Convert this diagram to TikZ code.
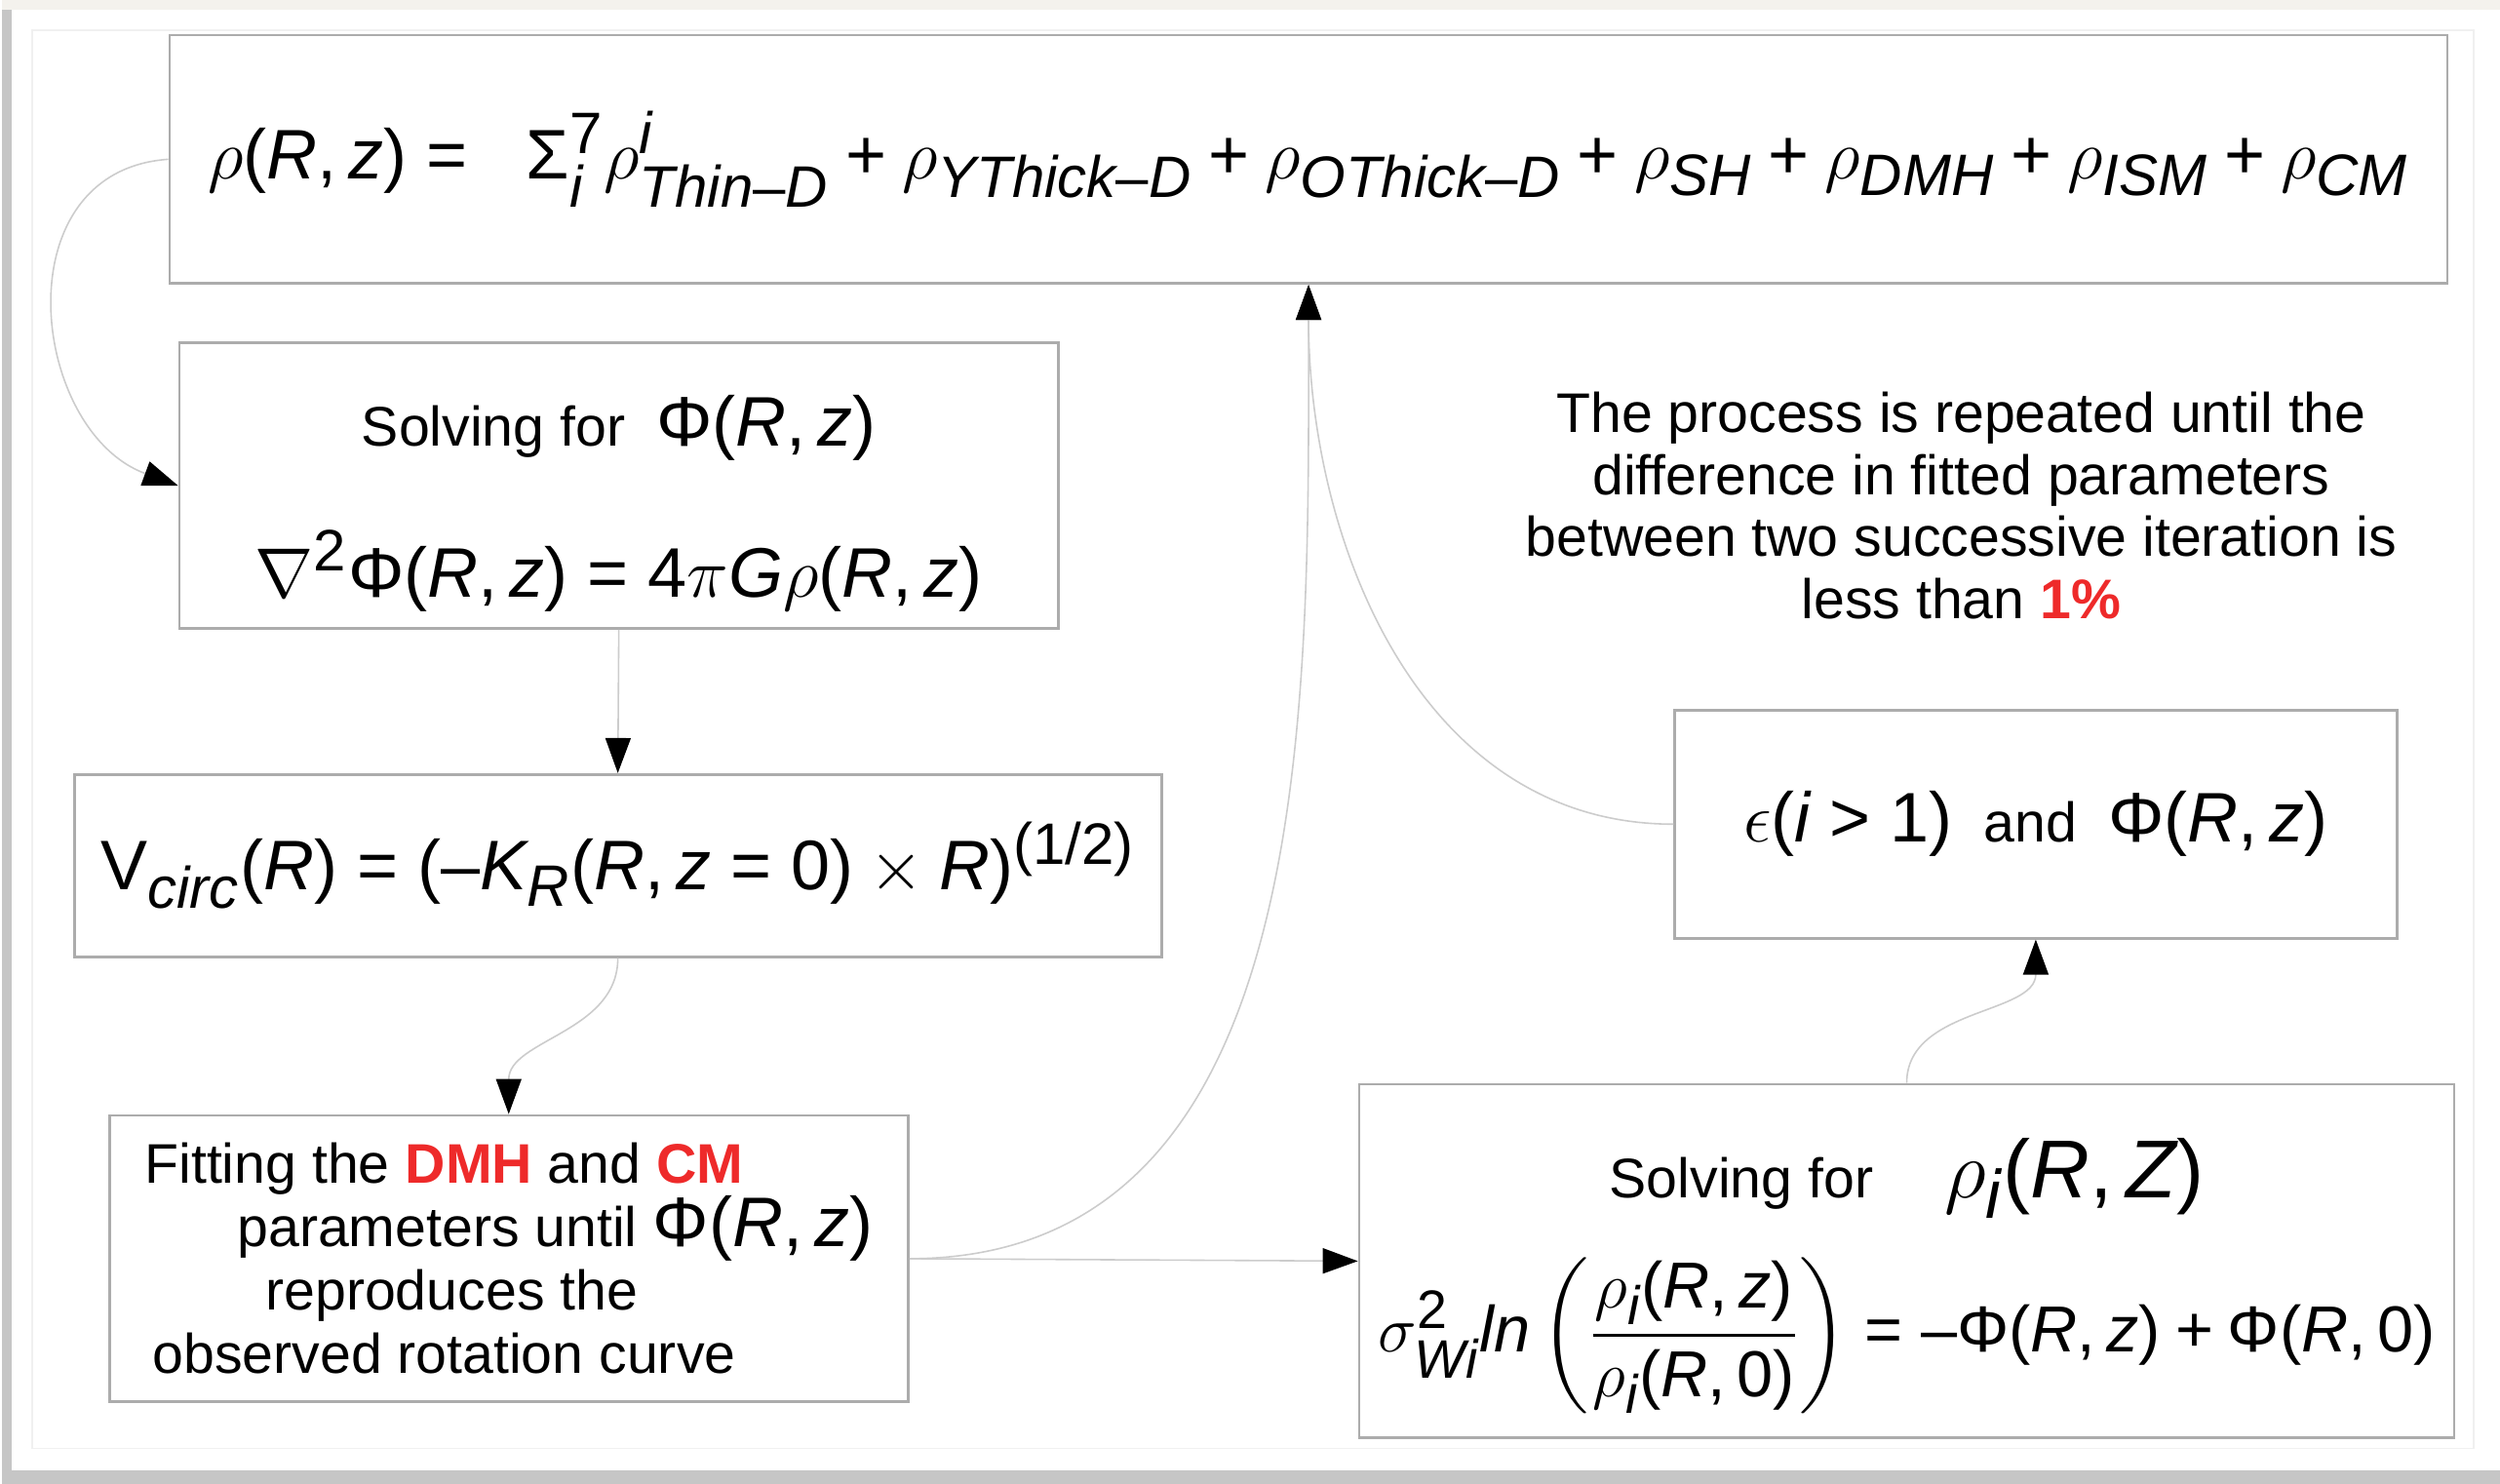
\RequirePackage{fix-cm}
\documentclass[tikz,border=0pt]{standalone}
\usepackage{amsmath,amssymb}
\usepackage[no-math]{fontspec}
\setmainfont{Liberation Sans}
\usepackage[italic]{mathastext}
\usepackage{xcolor}
\usetikzlibrary{calc, arrows.meta, positioning}
\definecolor{pagebg}{HTML}{F4F2ED}
\definecolor{hilite}{HTML}{EE2A2A}
\newcommand{\Phisf}{\text{Φ}}
\newcommand{\Sigmasf}{\text{Σ}}

\begin{document}
\begin{tikzpicture}[
  >={Triangle[length=3.6mm,width=2.6mm,color=black]},
  every node/.style={font=\fontsize{16.3}{18.5}\selectfont},
  stagebox/.style={draw=gray!65, line width=0.8pt, fill=white, inner sep=0pt},
  flow/.style={->, gray!40, line width=0.45pt}
]
\fill[pagebg] (0,0) rectangle (25.64,15.23);
\fill[gray!45] (0,0) rectangle (25.64,15.13);
\fill[white] (0.1,0.14) rectangle (25.64,15.13);
\draw[gray!12] (0.31,0.36) rectangle (25.37,14.92);
\node[stagebox, minimum width=23.38cm, minimum height=2.55cm, font=\fontsize{20.5}{24}\selectfont] (rho-total) at (13.41,13.595)
  {$\rho(R,z) = \;\; \Sigmasf_i^7 \rho^i_{Thin-D} + \rho_{YThick-D} + \rho_{OThick-D} + \rho_{SH} + \rho_{DMH} + \rho_{ISM} + \rho_{CM}$};
\node[stagebox, minimum width=9.02cm, minimum height=2.93cm] (phi-solve) at (6.33,10.245)
  {\begin{tabular}{@{}c@{}}\rule{0pt}{9.3mm}Solving for \ {\fontsize{20.5}{24}\selectfont$\Phisf(R,z)$}\\[6.7mm]
   {\fontsize{20.5}{24}\selectfont$\nabla^2\Phisf(R,z) = 4\pi G\rho(R,z)$}\end{tabular}};
\node[stagebox, minimum width=11.16cm, minimum height=1.87cm, font=\fontsize{20.5}{24}\selectfont] (v-circ) at (6.32,6.345)
  {$\mathrm{V}_{circ}(R) = (-K_R(R,z=0)\times R)^{(1/2)}$};
\node[stagebox, minimum width=8.2cm, minimum height=2.94cm, align=left] (dmh-fit) at (5.2,2.31)
  {Fitting the \textcolor{hilite}{\textbf{DMH}} and \textcolor{hilite}{\textbf{CM}}\\
   \hspace{9.5mm}parameters until {\fontsize{20.5}{24}\selectfont$\Phisf(R,z)$}\\
   \hspace{12.4mm}reproduces the\\
   \hspace{0.8mm}observed rotation curve};
\node[align=center, font=\fontsize{16.3}{18.2}\selectfont] (repeat-note) at (20.11,10.04)
  {The process is repeated until the\\ difference in fitted parameters\\ between two successive iteration is\\ less than \textcolor{hilite}{\textbf{1\%}}};
\node[stagebox, minimum width=7.41cm, minimum height=2.34cm] (eps-phi) at (20.875,6.77)
  {{\fontsize{20.5}{24}\selectfont$\epsilon(i>1)$} \ and \ {\fontsize{20.5}{24}\selectfont$\Phisf(R,z)$}};
\node[stagebox, minimum width=11.24cm, minimum height=3.63cm] (rho-i) at (19.55,2.285)
  {\begin{tabular}{@{}c@{}}\rule{0pt}{9.1mm}Solving for \quad {\fontsize{24}{28}\selectfont$\rho_i(R,Z)$}\\[4.2mm]
   {\fontsize{19}{22}\selectfont$\sigma^2_{Wi}ln\left(\dfrac{\rho_i(R,z)}{\rho_i(R,0)}\right) = -\Phisf(R,z) + \Phisf(R,0)$}\end{tabular}};
\draw[flow] (rho-total.west) .. controls +(-1.72,-0.12) and +(-1.52,0.56) .. (phi-solve.west);
\draw[flow] (phi-solve.south) -- (v-circ.north);
\draw[flow] (v-circ.south) to[out=-90,in=90] (dmh-fit.north);
\draw[flow] (dmh-fit.east) -- (rho-i.west);
\draw[flow] (dmh-fit.east) to[out=0,in=-90] (rho-total.south);
\draw[flow] (eps-phi.west) to[out=180,in=-90] (rho-total.south);
\draw[flow] (rho-i.north) to[out=90,in=-90] (eps-phi.south);
\end{tikzpicture}
\end{document}
